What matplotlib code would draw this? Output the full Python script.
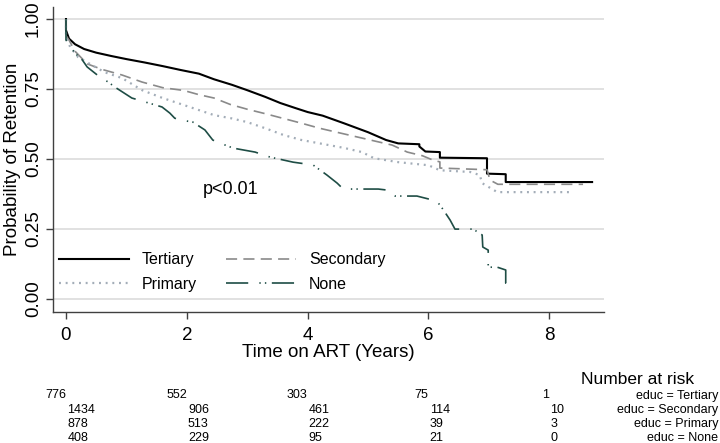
import matplotlib
matplotlib.use("Agg")
import matplotlib.pyplot as plt
from matplotlib.transforms import blended_transform_factory

plt.rcParams['font.family'] = ['Liberation Sans', 'DejaVu Sans']
plt.rcParams['lines.scale_dashes'] = False

# Kaplan-Meier estimates (time in years, survival).
# repeated times mark the visible vertical drops
t_tertiary = [0, 0, 0.05, 0.15, 0.3, 0.5, 0.75, 1.0, 1.3, 1.6, 1.9, 2.2, 2.45, 2.75, 3.0,
              3.3, 3.55, 3.8, 4.0, 4.25, 4.6, 5.0, 5.3, 5.5, 5.85, 5.85, 5.95, 6.19, 6.19,
              6.97, 6.97, 7.28, 7.28, 8.71]
s_tertiary = [1.0, 0.96, 0.93, 0.91, 0.893, 0.88, 0.868, 0.857, 0.845, 0.832, 0.818, 0.805,
              0.785, 0.765, 0.746, 0.722, 0.70, 0.682, 0.668, 0.655, 0.628, 0.596, 0.568,
              0.556, 0.553, 0.545, 0.527, 0.525, 0.505, 0.503, 0.448, 0.446, 0.418, 0.418]

t_secondary = [0, 0, 0.05, 0.15, 0.35, 0.6, 0.93, 1.26, 1.6, 1.95, 2.2, 2.45, 2.72, 3.0, 3.3,
               3.6, 3.9, 4.2, 4.5, 4.8, 5.1, 5.4, 5.65, 5.9, 6.08, 6.19, 6.19, 6.97, 7.02,
               7.15, 8.56]
s_secondary = [1.0, 0.94, 0.925, 0.885, 0.84, 0.82, 0.80, 0.775, 0.755, 0.745, 0.73, 0.718,
               0.695, 0.678, 0.662, 0.645, 0.628, 0.61, 0.595, 0.58, 0.565, 0.55, 0.525, 0.512,
               0.496, 0.49, 0.468, 0.462, 0.425, 0.41, 0.41]

t_primary = [0, 0, 0.07, 0.2, 0.37, 0.64, 0.93, 1.26, 1.6, 1.95, 2.2, 2.45, 2.75, 3.0, 3.3,
             3.6, 3.9, 4.3, 4.6, 4.9, 5.1, 5.5, 6.0, 6.19, 6.69, 6.85, 6.89, 7.14, 8.38]
s_primary = [1.0, 0.935, 0.9, 0.864, 0.843, 0.81, 0.789, 0.746, 0.718, 0.693, 0.675, 0.657,
             0.645, 0.632, 0.61, 0.586, 0.568, 0.552, 0.54, 0.525, 0.503, 0.489, 0.478, 0.46,
             0.454, 0.443, 0.414, 0.382, 0.382]

t_none = [0, 0, 0.15, 0.27, 0.35, 0.56, 0.7, 0.81, 1.09, 1.31, 1.59, 1.72, 1.8, 1.89, 2.1,
          2.3, 2.43, 2.55, 2.77, 3.13, 3.38, 3.76, 4.09, 4.32, 4.49, 4.59, 5.17, 5.33, 5.45,
          5.81, 6.14, 6.24, 6.36, 6.44, 6.74, 6.89, 6.9, 6.99, 6.99, 7.14, 7.28, 7.28, 7.42]
s_none = [1.0, 0.925, 0.878, 0.854, 0.829, 0.793, 0.775, 0.757, 0.718, 0.704, 0.686, 0.664,
          0.646, 0.64, 0.632, 0.604, 0.568, 0.557, 0.539, 0.525, 0.507, 0.489, 0.479, 0.443,
          0.414, 0.393, 0.393, 0.389, 0.368, 0.368, 0.35, 0.321, 0.282, 0.25, 0.25, 0.229,
          0.186, 0.175, 0.114, 0.114, 0.104, 0.057, 0.057]

# number at risk table
risk_times = [0, 2, 4, 6, 8]
risk_tertiary = [776, 552, 303, 75, 1]
risk_secondary = [1434, 906, 461, 114, 10]
risk_primary = [878, 513, 222, 39, 3]
risk_none = [408, 229, 95, 21, 0]

fig = plt.figure(figsize=(7.2, 4.43), dpi=100)
ax = fig.add_axes([53 / 720, 1 - 312 / 443, 551 / 720, 305 / 443])

l_ter, = ax.plot(t_tertiary, s_tertiary, color='black', lw=1.5, label='Tertiary')
l_sec, = ax.plot(t_secondary, s_secondary, color='#8a8a8a', lw=1.2,
                 dashes=(8, 4.5), label='Secondary')
l_pri, = ax.plot(t_primary, s_primary, color='#a3adb8', lw=1.6,
                 dashes=(1.4, 3.4), label='Primary')
l_non, = ax.plot(t_none, s_none, color='#1e4d45', lw=1.2,
                 dashes=(16, 8, 1, 3, 1, 4), label='None')

ax.set_xlim(-0.215, 8.907)
ax.set_ylim(-0.046, 1.043)
ax.set_xticks(risk_times)
ax.set_yticks([0, 0.25, 0.5, 0.75, 1.0])
ax.set_yticklabels(['0.00', '0.25', '0.50', '0.75', '1.00'], rotation=90, va='center')
ax.tick_params(axis='both', labelsize=13.5, length=5, width=1, color='#404040')
ax.tick_params(axis='x', pad=6)
ax.tick_params(axis='y', pad=3)
ax.grid(axis='y', color='#d9d9d9', lw=1.1)
ax.set_axisbelow(True)
for side in ['top', 'right']:
    ax.spines[side].set_visible(False)
for side in ['left', 'bottom']:
    ax.spines[side].set_color('#404040')
    ax.spines[side].set_linewidth(1)

ax.set_xlabel('Time on ART (Years)', fontsize=13.5, labelpad=0)
ax.set_ylabel('Probability of Retention', fontsize=13.5, labelpad=3)

ax.text(2.27, 0.375, 'p<0.01', fontsize=13, va='baseline')

ax.legend([l_ter, l_pri, l_sec, l_non], ['Tertiary', 'Primary', 'Secondary', 'None'],
          ncol=2, frameon=False, loc='lower left', bbox_to_anchor=(0.011, 0.066),
          borderaxespad=0, borderpad=0, fontsize=11.5, handlelength=4.4,
          handletextpad=0.8, columnspacing=1.8, labelspacing=0.6)

# number at risk below the plot
trans = blended_transform_factory(ax.transData, fig.transFigure)
fig.text(638 / 720, 1 - 380 / 443, 'Number at risk', fontsize=12.5, ha='center', va='center')
rows = [('Tertiary', risk_tertiary), ('Secondary', risk_secondary),
        ('Primary', risk_primary), ('None', risk_none)]
row_y = [395.5, 409.7, 423.9, 437.6]
for i, (name, counts) in enumerate(rows):
    y = 1 - row_y[i] / 443
    for t, n in zip(risk_times, counts):
        if i == 0:
            ax.text(t, y, str(n), transform=trans, ha='right', va='center', fontsize=9)
        else:
            ax.text(t + 0.02, y, str(n), transform=trans, ha='left', va='center', fontsize=9)
    fig.text(718 / 720, y, 'educ = ' + name, ha='right', va='center', fontsize=9)

fig.savefig('out.png', dpi=100)
